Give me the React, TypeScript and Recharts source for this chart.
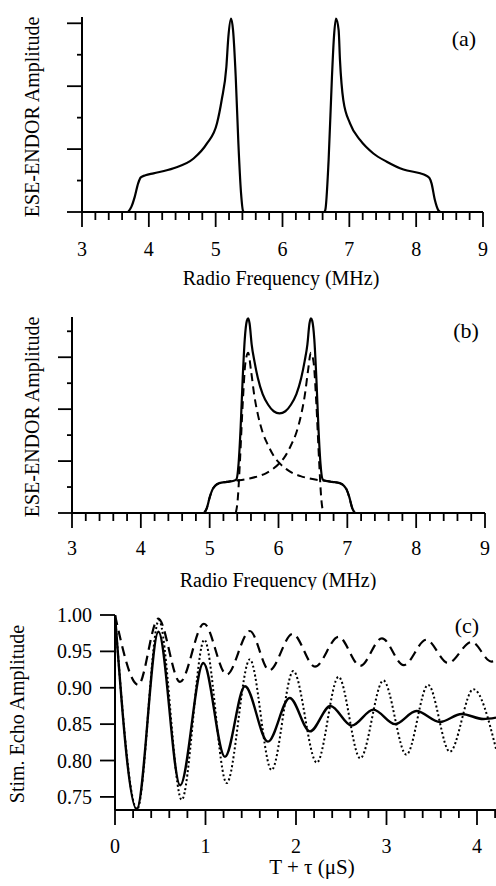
import React from 'react';
import { LineChart, Line, XAxis, YAxis } from 'recharts';

const FONT = "'Liberation Serif', 'DejaVu Serif', 'Times New Roman', serif";
const INK = '#000';

// ---------- Panel (a) ----------
const aFreq = [
  3.69, 3.74, 3.79, 3.84, 3.88, 3.95, 4.07, 4.37, 4.67, 4.87, 5.02, 5.09, 5.16, 5.19, 5.23, 5.26, 5.3, 5.34, 5.38, 5.41, 5.43,
  6.62, 6.64, 6.69, 6.74, 6.77, 6.8, 6.84, 6.86, 6.91, 7.01, 7.16, 7.36, 7.56, 7.81, 8.06, 8.14, 8.2, 8.23, 8.28, 8.33, 8.36,
];
const aAmp = [
  0, 0.17, 0.49, 0.91, 1.1, 1.17, 1.23, 1.39, 1.7, 2.18, 2.82, 3.56, 4.61, 5.57, 6.15, 5.78, 4.3, 2.18, 0.59, 0.03, 0,
  0, 0.06, 1.65, 4.3, 5.57, 6.15, 5.78, 4.83, 3.56, 2.82, 2.29, 1.86, 1.6, 1.35, 1.23, 1.17, 1.08, 0.91, 0.38, 0.06, 0,
];

// ---------- Panel (b) ----------
const bSumFreq = [
  4.92, 4.96, 5.0, 5.04, 5.08, 5.14, 5.25, 5.35, 5.39, 5.42, 5.45, 5.48, 5.51, 5.54, 5.56, 5.58, 5.61, 5.65, 5.7, 5.77, 5.85, 5.93,
  6.015, 6.1, 6.18, 6.26, 6.33, 6.38, 6.42, 6.45, 6.47, 6.49, 6.52, 6.55, 6.58, 6.61, 6.64, 6.68, 6.78, 6.89, 6.95, 6.99, 7.03, 7.07, 7.11,
];
const bSumAmp = [
  0, 0.2, 0.6, 0.9, 1.05, 1.15, 1.2, 1.24, 1.3, 1.9, 3.3, 5.2, 6.7, 7.4, 7.5, 7.3, 6.5, 5.85, 5.2, 4.58, 4.17, 3.92,
  3.84, 3.92, 4.17, 4.58, 5.2, 5.85, 6.5, 7.3, 7.5, 7.4, 6.7, 5.2, 3.3, 1.9, 1.3, 1.24, 1.2, 1.15, 1.05, 0.9, 0.6, 0.2, 0,
];
const bLowFreq = [
  5.38, 5.41, 5.44, 5.48, 5.52, 5.56, 5.6, 5.65, 5.7, 5.77, 5.85, 5.93, 6.015, 6.12, 6.22, 6.32, 6.45, 6.6, 6.68, 6.78, 6.89, 6.95,
  6.99, 7.03, 7.07, 7.11,
];
const bLowAmp = [
  0, 0.6, 2.0, 4.2, 5.8, 6.17, 5.5, 4.5, 3.8, 3.1, 2.6, 2.2, 1.92, 1.68, 1.52, 1.42, 1.33, 1.26, 1.24, 1.2, 1.15, 1.05,
  0.9, 0.6, 0.2, 0,
];
const bHighFreq = [
  4.92, 4.96, 5.0, 5.04, 5.08, 5.14, 5.25, 5.35, 5.43, 5.58, 5.71, 5.81, 5.91, 6.015, 6.1, 6.18, 6.26, 6.33, 6.38, 6.43, 6.47, 6.51,
  6.55, 6.59, 6.62, 6.65,
];
const bHighAmp = [
  0, 0.2, 0.6, 0.9, 1.05, 1.15, 1.2, 1.24, 1.26, 1.33, 1.42, 1.52, 1.68, 1.92, 2.2, 2.6, 3.1, 3.8, 4.5, 5.5, 6.17, 5.8,
  4.2, 2.0, 0.6, 0,
];

// ---------- Panel (c) ----------
const cSolidT = [0, 0.24, 0.48, 0.72, 0.976, 1.215, 1.436, 1.69, 1.93, 2.155, 2.38, 2.615, 2.855, 3.094, 3.33, 3.59, 3.83, 4.07, 4.21];
const cSolidV = [1.0, 0.733, 0.977, 0.766, 0.934, 0.805, 0.902, 0.826, 0.886, 0.84, 0.875, 0.848, 0.87, 0.85, 0.868, 0.853, 0.864, 0.857, 0.859];
const cDotT = [0, 0.245, 0.485, 0.737, 0.987, 1.234, 1.49, 1.73, 1.97, 2.23, 2.47, 2.71, 2.965, 3.22, 3.46, 3.7, 3.96, 4.21];
const cDotV = [1.0, 0.733, 0.993, 0.746, 0.966, 0.769, 0.939, 0.787, 0.923, 0.797, 0.915, 0.803, 0.91, 0.808, 0.904, 0.812, 0.898, 0.816];
const cDashT = [0, 0.257, 0.478, 0.718, 0.983, 1.234, 1.49, 1.705, 1.963, 2.21, 2.47, 2.71, 2.95, 3.19, 3.44, 3.68, 3.94, 4.16, 4.21];
const cDashV = [1.0, 0.904, 0.995, 0.908, 0.988, 0.918, 0.978, 0.924, 0.974, 0.929, 0.97, 0.93, 0.968, 0.931, 0.966, 0.934, 0.963, 0.936, 0.937];

// ---------- Ticks ----------
const freqTicks = [
  3, 3.2, 3.4, 3.6, 3.8, 4, 4.2, 4.4, 4.6, 4.8, 5, 5.2, 5.4, 5.6, 5.8, 6, 6.2, 6.4, 6.6, 6.8, 7, 7.2, 7.4, 7.6, 7.8, 8, 8.2, 8.4, 8.6, 8.8, 9,
];
const freqMajor = [3, 4, 5, 6, 7, 8, 9];
const freqLabels = ['3', '4', '5', '6', '7', '8', '9'];
const aAmpTicks = [0, 1, 2, 3, 4, 5, 6];
const aAmpMajor = [0, 2, 4, 6];
const bAmpTicks = [0, 1, 2, 3, 4, 5, 6, 7];
const bAmpMajor = [0, 2, 4, 6];
const timeTicks = [
  0, 0.2, 0.4, 0.6, 0.8, 1, 1.2, 1.4, 1.6, 1.8, 2, 2.2, 2.4, 2.6, 2.8, 3, 3.2, 3.4, 3.6, 3.8, 4, 4.2,
];
const timeMajor = [0, 1, 2, 3, 4];
const timeLabels = ['0', '1', '2', '3', '4'];
const echoTicks = [0.75, 0.8, 0.85, 0.9, 0.95, 1.0];
const echoLabels = ['0.75', '0.80', '0.85', '0.90', '0.95', '1.00'];

const pts = (xs: number[], ys: number[]) => xs.map((x, i) => ({ x, y: ys[i] }));
const idxOf = (v: number, arr: number[]) => arr.findIndex((a) => Math.abs(a - v) < 1e-6);

const AXIS = { stroke: INK, strokeWidth: 2 };
const TEXT_STYLE: React.CSSProperties = { fontFamily: FONT };

function makeXTick(major: number[], labels: string[], labelDy: number, majorLen: number, minorLen: number) {
  return (props: any) => {
    const { x, y, payload } = props;
    const i = idxOf(payload.value, major);
    const isMajor = i >= 0;
    return (
      <g>
        <line x1={x} x2={x} y1={y} y2={y + (isMajor ? majorLen : minorLen)} stroke={INK} strokeWidth={1.8} />
        {isMajor && (
          <text x={x} y={y + labelDy} textAnchor="middle" fontFamily={FONT} style={TEXT_STYLE} fontSize={20} fill={INK}>
            {labels[i]}
          </text>
        )}
      </g>
    );
  };
}

function makeYTick(major: number[] | null, labels: string[] | null, majorLen: number, minorLen: number) {
  return (props: any) => {
    const { x, y, payload } = props;
    const isMajor = major ? idxOf(payload.value, major) >= 0 : true;
    const li = labels ? idxOf(payload.value, echoTicks) : -1;
    return (
      <g>
        <line x1={x} x2={x - (isMajor ? majorLen : minorLen)} y1={y} y2={y} stroke={INK} strokeWidth={1.8} />
        {labels && li >= 0 && (
          <text x={x - 23} y={y + 7} textAnchor="end" fontFamily={FONT} style={TEXT_STYLE} fontSize={20} fill={INK}>
            {labels[li]}
          </text>
        )}
      </g>
    );
  };
}

const xTickA = makeXTick(freqMajor, freqLabels, 44, 15, 8);
const xTickB = makeXTick(freqMajor, freqLabels, 42, 15, 8);
const xTickC = makeXTick(timeMajor, timeLabels, 43, 15, 8);
const yTickA = makeYTick(aAmpMajor, null, 15, 5);
const yTickB = makeYTick(bAmpMajor, null, 14, 5);
const yTickC = makeYTick(null, echoLabels, 15, 15);

const txt = (x: number, y: number, s: string, size = 20, rotate = false) => (
  <text
    x={x}
    y={y}
    textAnchor="middle"
    fontFamily={FONT}
    style={TEXT_STYLE}
    fontSize={size}
    fill={INK}
    transform={rotate ? `rotate(-90, ${x}, ${y})` : undefined}
  >
    {s}
  </text>
);

export default function App() {
  return (
    <div style={{ position: 'absolute', left: 0, top: 0, width: 496, height: 886, background: '#fff', overflow: 'hidden', fontFamily: FONT }}>
      {/* Panel (a) */}
      <div style={{ position: 'absolute', left: 0, top: 0 }}>
        <LineChart width={496} height={290} margin={{ top: 17, right: 13, bottom: 0, left: 0 }}>
          <XAxis
            type="number"
            dataKey="x"
            domain={[3, 9]}
            ticks={freqTicks}
            interval={0}
            tickSize={0}
            tickMargin={0}
            tickLine={false}
            tick={xTickA}
            axisLine={AXIS}
            height={78}
            allowDataOverflow
            label={() => txt(281, 285, 'Radio Frequency (MHz)')}
          />
          <YAxis
            type="number"
            domain={[0, 6.2]}
            ticks={aAmpTicks}
            interval={0}
            tickSize={0}
            tickMargin={0}
            tickLine={false}
            tick={yTickA}
            axisLine={AXIS}
            width={82}
            allowDataOverflow
            label={() => (
              <g>
                {txt(39, 117, 'ESE-ENDOR Amplitude', 20, true)}
                {txt(464, 46, '(a)', 22)}
              </g>
            )}
          />
          <Line data={pts(aFreq, aAmp)} dataKey="y" type="monotone" stroke={INK} strokeWidth={2.2} dot={false} isAnimationActive={false} />
        </LineChart>
      </div>

      {/* Panel (b) */}
      <div style={{ position: 'absolute', left: 0, top: 290 }}>
        <LineChart width={496} height={300} margin={{ top: 27, right: 11, bottom: 0, left: 0 }}>
          <XAxis
            type="number"
            dataKey="x"
            domain={[3, 9]}
            ticks={freqTicks}
            interval={0}
            tickSize={0}
            tickMargin={0}
            tickLine={false}
            tick={xTickB}
            axisLine={AXIS}
            height={77}
            allowDataOverflow
            label={() => txt(278, 297, 'Radio Frequency (MHz)')}
          />
          <YAxis
            type="number"
            domain={[0, 7.55]}
            ticks={bAmpTicks}
            interval={0}
            tickSize={0}
            tickMargin={0}
            tickLine={false}
            tick={yTickB}
            axisLine={AXIS}
            width={72}
            allowDataOverflow
            label={() => (
              <g>
                {txt(39, 127, 'ESE-ENDOR Amplitude', 20, true)}
                {txt(466, 48, '(b)', 22)}
              </g>
            )}
          />
          <Line data={pts(bSumFreq, bSumAmp)} dataKey="y" type="monotone" stroke={INK} strokeWidth={2.2} dot={false} isAnimationActive={false} />
          <Line data={pts(bLowFreq, bLowAmp)} dataKey="y" type="monotone" stroke={INK} strokeWidth={2} strokeDasharray="8 5" dot={false} isAnimationActive={false} />
          <Line data={pts(bHighFreq, bHighAmp)} dataKey="y" type="monotone" stroke={INK} strokeWidth={2} strokeDasharray="8 5" dot={false} isAnimationActive={false} />
        </LineChart>
      </div>

      {/* Panel (c) */}
      <div style={{ position: 'absolute', left: 0, top: 590 }}>
        <LineChart width={496} height={296} margin={{ top: 25, right: 0, bottom: 0, left: 0 }}>
          <XAxis
            type="number"
            dataKey="x"
            domain={[0, 4.21]}
            ticks={timeTicks}
            interval={0}
            tickSize={0}
            tickMargin={0}
            tickLine={false}
            tick={xTickC}
            axisLine={AXIS}
            height={76}
            allowDataOverflow
            label={() => txt(312, 284, 'T + τ (μS)', 21)}
          />
          <YAxis
            type="number"
            domain={[0.732, 1.0]}
            ticks={echoTicks}
            interval={0}
            tickSize={0}
            tickMargin={0}
            tickLine={false}
            tick={yTickC}
            axisLine={AXIS}
            width={115}
            allowDataOverflow
            label={() => (
              <g>
                {txt(24, 124, 'Stim. Echo Amplitude', 20, true)}
                {txt(467, 43, '(c)', 22)}
              </g>
            )}
          />
          <Line data={pts(cDashT, cDashV)} dataKey="y" type="monotone" stroke={INK} strokeWidth={2.2} strokeDasharray="10 6" dot={false} isAnimationActive={false} />
          <Line data={pts(cDotT, cDotV)} dataKey="y" type="monotone" stroke={INK} strokeWidth={2} strokeDasharray="2 2.5" dot={false} isAnimationActive={false} />
          <Line data={pts(cSolidT, cSolidV)} dataKey="y" type="monotone" stroke={INK} strokeWidth={2.4} dot={false} isAnimationActive={false} />
        </LineChart>
      </div>
    </div>
  );
}
